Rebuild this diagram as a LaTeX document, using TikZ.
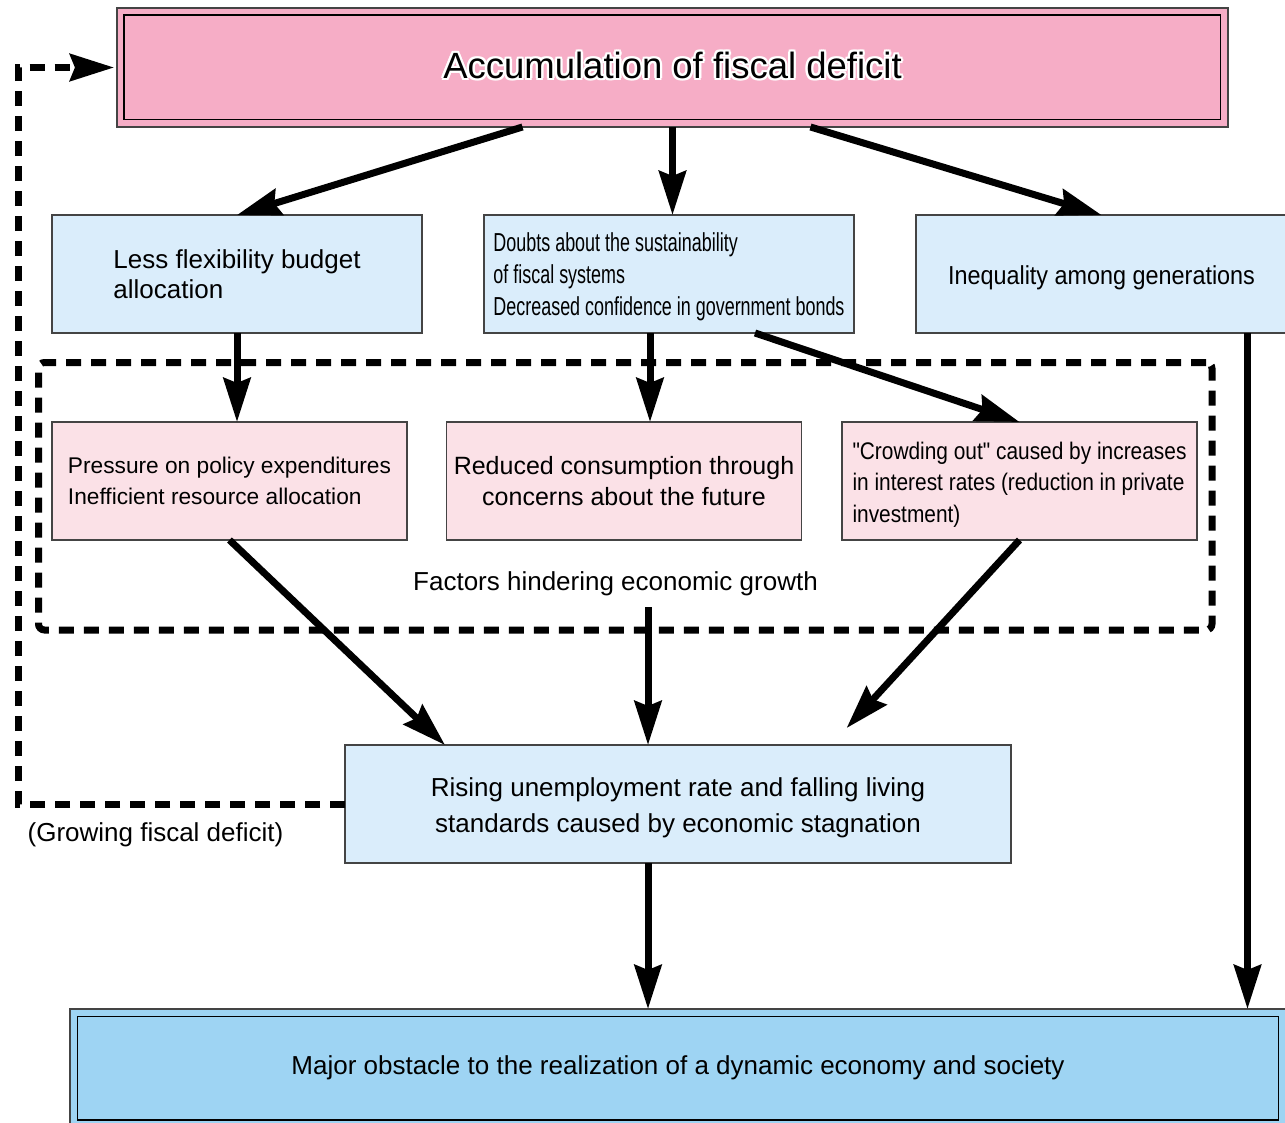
\documentclass[tikz,border=0pt]{standalone}
\usepackage{fontspec}
\setmainfont{Liberation Sans}
\newfontfamily\slimfont[FakeStretch=0.9]{Liberation Sans}
\newfontfamily\crowdfont[FakeStretch=0.87]{Liberation Sans}
\newfontfamily\doubtfont[FakeStretch=0.69]{Liberation Sans}
\usepackage{tikz}
\usetikzlibrary{arrows.meta}
\definecolor{deficitpink}{HTML}{F6ADC6}
\definecolor{paleblue}{HTML}{DAEDFB}
\definecolor{palepink}{HTML}{FBE1E7}
\definecolor{obstblue}{HTML}{9ED4F3}
\definecolor{boxline}{HTML}{444444}
\newcommand\halo[1]{%
  \makebox[0pt][l]{\color{white}%
    \foreach \hx/\hy in {2.4/0,1.7/1.7,0/2.4,-1.7/1.7,-2.4/0,-1.7/-1.7,0/-2.4,1.7/-1.7}%
      {\makebox[0pt][l]{\hspace*{\hx pt}\raisebox{\hy pt}{#1}}}}%
  #1}

\begin{document}
\begin{tikzpicture}[x=1pt,y=-1pt,line join=miter,>={Stealth[length=44pt,width=27pt,inset=5pt]}]
\tikzstyle{box}=[draw=boxline, line width=1.2pt, inner sep=0pt, outer sep=0pt, minimum height=118pt]
\tikzstyle{blu}=[box, fill=paleblue, minimum width=370pt]
\tikzstyle{pnk}=[box, fill=palepink, minimum width=355pt]
\tikzstyle{flow}=[line width=7pt]
\tikzstyle{loopline}=[line width=7pt, dash pattern=on 15pt off 10pt]
\tikzstyle{ann}=[inner sep=0pt, font=\fontsize{26}{30}\selectfont]

\useasboundingbox (0,0) rectangle (1285,1122);

\path (672.5,67.5) node (deficit) [box, fill=deficitpink, minimum width=1111pt, minimum height=119pt, text depth=7pt, font=\fontsize{36.5}{40}\selectfont] {\halo{Accumulation of fiscal deficit}};
\draw [line width=1.2pt] ([shift={(7,7)}]deficit.north west) rectangle ([shift={(-7.5,-7.5)}]deficit.south east);

\path (deficit.south)+(-435.5,147) node (budget) [blu, align=left, font=\fontsize{26}{30}\selectfont] {Less flexibility budget\\allocation};
\path (deficit.south)+(-3.5,147) node (doubts) [blu, align=left, text height=89pt, font=\doubtfont\fontsize{26}{32}\selectfont] {Doubts about the sustainability\\of fiscal systems\\Decreased confidence in government bonds};
\path (deficit.south)+(429,147) node (inequal) [blu, minimum width=371pt, text height=26pt, font=\slimfont\fontsize{26}{30}\selectfont] {Inequality among generations};

\path (625.25,496.25) node (frame) [draw, loopline, rounded corners=6pt, minimum width=1173.5pt, minimum height=267.5pt, inner sep=0pt, outer sep=0pt] {};
\path (budget.south)+(-7.5,148) node (pressure) [pnk, align=left, font=\fontsize{22.7}{31}\selectfont] {Pressure on policy expenditures\\Inefficient resource allocation};
\path (doubts.south)+(-45,148) node (consum) [pnk, align=center, font=\fontsize{25}{31}\selectfont] {Reduced consumption through\\concerns about the future};
\path (inequal.south)+(-82,148) node (crowd) [pnk, align=left, text height=87.5pt, font=\crowdfont\fontsize{24}{31.5}\selectfont] {"Crowding out" caused by increases\\in interest rates (reduction in private\\investment)};
\path (615.5,584) node (factors) [ann] {Factors hindering economic growth};
\coordinate (grow) at (648,607);

\path (678,804) node (rising) [box, fill=paleblue, minimum width=666pt, align=center, text height=62pt, font=\fontsize{26}{36}\selectfont] {Rising unemployment rate and falling living\\standards caused by economic stagnation};
\path (155.5,835) node (growlbl) [ann] {(Growing fiscal deficit)};
\coordinate (back) at (18,0);

\path (678,1068.25) node (obstacle) [box, fill=obstblue, minimum width=1216pt, minimum height=118.5pt, font=\fontsize{26}{30}\selectfont] {Major obstacle to the realization of a dynamic economy and society};
\draw [line width=1.2pt] ([shift={(7.5,7.5)}]obstacle.north west) rectangle ([shift={(-7.5,-7.5)}]obstacle.south east);

\path [draw, flow, ->] ([xshift=-150pt]deficit.south) -- (budget.north);
\path [draw, flow, ->] (deficit.south) -- (deficit.south |- doubts.north);
\path [draw, flow, ->] ([xshift=138pt]deficit.south) -- (inequal.north);
\path [draw, flow, ->] (budget.south) -- (budget.south |- pressure.north);
\path [draw, flow, ->] ([xshift=-19pt]doubts.south) -- ([xshift=-19pt]doubts.south |- consum.north);
\path [draw, flow, ->] ([xshift=86pt]doubts.south) -- (crowd.north);
\path [draw, flow, ->] ([xshift=146pt]inequal.south) -- ([xshift=146pt]inequal.south |- obstacle.north);
\path [draw, flow, ->] (pressure.south) -- ([xshift=100pt]rising.north west);
\path [draw, flow, ->] (grow) -- (grow |- rising.north);
\path [draw, flow, ->, shorten >=23pt] (crowd.south) -- ([xshift=-180pt]rising.north east);
\path [draw, flow, ->] ([xshift=-30pt]rising.south) -- ([xshift=-30pt]rising.south |- obstacle.north);
\path [draw, loopline, ->, shorten >=3pt] (rising.west) -- (rising.west -| back) -- (back |- deficit.west) -- (deficit.west);
\end{tikzpicture}
\end{document}
